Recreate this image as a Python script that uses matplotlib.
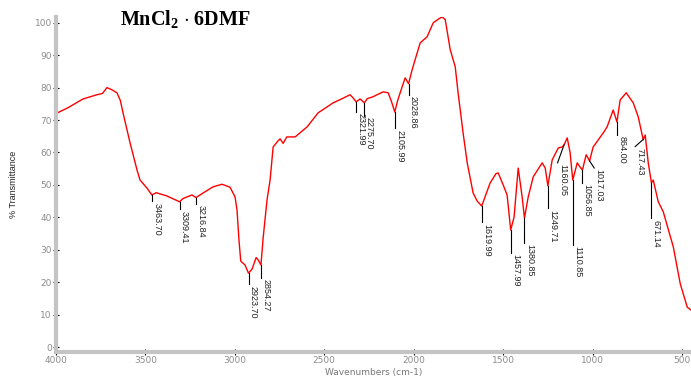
import numpy as np
import matplotlib
matplotlib.use('Agg')
import matplotlib.pyplot as plt
from matplotlib.ticker import MultipleLocator

# IR spectrum of MnCl2 . 6DMF
wavenumber = [4000, 3933, 3849, 3771, 3740, 3715, 3690, 3659, 3640, 3625, 3586, 3547, 3530, 3491,
              3464, 3440, 3380, 3309, 3290, 3240, 3217, 3178, 3122, 3072, 3027, 2999, 2988, 2977,
              2967, 2943, 2924, 2904, 2881, 2870, 2854, 2842, 2820, 2803, 2786, 2760, 2747, 2730,
              2710, 2663, 2596, 2535, 2451, 2400, 2356, 2340, 2322, 2300, 2276, 2260, 2227, 2171,
              2143, 2125, 2106, 2090, 2076, 2048, 2029, 2009, 1964, 1925, 1891, 1860, 1841, 1824,
              1796, 1768, 1752, 1724, 1701, 1668, 1645, 1620, 1573, 1540, 1528, 1500, 1478, 1458,
              1439, 1416, 1394, 1381, 1360, 1332, 1282, 1265, 1250, 1226, 1192, 1170, 1160, 1142,
              1126, 1111, 1086, 1070, 1057, 1036, 1017, 997, 941, 919, 885, 864, 846, 812, 773,
              745, 717, 706, 689, 671, 661, 633, 605, 549, 510, 471, 450]
transmittance = [72.0, 73.8, 76.5, 77.8, 78.2, 80.0, 79.4, 78.4, 76.0, 72.2, 63.0, 54.6, 51.5, 49.0,
                 46.9, 47.6, 46.6, 44.8, 45.8, 46.9, 46.1, 47.5, 49.4, 50.2, 49.3, 46.3, 42.3, 33.0,
                 26.5, 25.3, 22.8, 24.0, 27.6, 26.9, 25.3, 33.6, 45.4, 51.5, 61.7, 63.5, 64.2, 62.8,
                 64.8, 64.8, 67.9, 72.2, 75.3, 76.6, 77.8, 76.9, 75.6, 76.5, 75.3, 76.6, 77.2, 78.7,
                 78.4, 75.8, 72.5, 76.0, 78.4, 83.0, 81.2, 85.5, 93.8, 95.7, 100.0, 101.2, 101.8, 101.0,
                 91.7, 86.4, 78.4, 66.0, 56.8, 47.5, 45.0, 43.5, 50.6, 53.5, 53.7, 50.0, 46.9, 36.1,
                 40.1, 55.2, 46.3, 39.8, 46.3, 52.5, 56.8, 55.2, 49.7, 57.7, 61.4, 61.7, 62.3, 64.5,
                 60.0, 51.5, 56.8, 55.5, 54.6, 59.3, 57.4, 61.7, 66.0, 67.9, 73.1, 69.4, 76.2, 78.4, 75.3,
                 71.0, 63.9, 65.4, 56.8, 50.6, 51.5, 44.8, 41.7, 30.9, 19.5, 12.3, 11.4]

peak_pos = [3463.70, 3309.41, 3216.84, 2923.70, 2854.27, 2321.99, 2275.70, 2105.99, 2028.86,
            1619.99, 1457.99, 1380.85, 1249.71, 1160.05, 1110.85, 1056.85, 1017.03, 864.00,
            717.43, 671.14]

# leader line end for each label: (shift in cm-1, drop in %T)
leaders = [(0, 2), (0, 2.3), (0, 2), (0, 3.5), (0, 4), (0, 3), (0, 4), (0, 5), (0, 3.5),
           (0, 5), (0, 7), (0, 7.7), (0, 7), (36, 5.5), (0, 20), (0, 4), (-26, 2.2), (0, 4),
           (45, 2.2), (0, 11)]

plt.rcParams['mathtext.fontset'] = 'custom'
plt.rcParams['mathtext.rm'] = 'Liberation Serif:bold'
plt.rcParams['mathtext.bf'] = 'Liberation Serif:bold'

fig = plt.figure(figsize=(6.91, 3.76), dpi=100)
ax = fig.add_axes([0.081, 0.064, 0.919, 0.891])

wn = np.array(wavenumber, dtype=float)
tr = np.array(transmittance, dtype=float)
ax.plot(wn, tr, color='red', lw=1.0)

label_font = 'Liberation Sans'
for pos, (shift, drop) in zip(peak_pos, leaders):
    t_pk = np.interp(pos, wn[::-1], tr[::-1])
    x_end = pos + shift
    y_end = t_pk - drop
    ax.plot([pos, x_end], [t_pk, y_end], color='black', lw=0.8)
    ax.annotate('{:.2f}'.format(pos), xy=(x_end, y_end), xytext=(3.5, -1),
                textcoords='offset points', rotation=-90, ha='center', va='top',
                fontsize=6.5, family=label_font, color='#222222')

ax.set_xlim(4000, 450)
ax.set_ylim(-1.5, 101.8)
ax.xaxis.set_minor_locator(MultipleLocator(100))
ax.yaxis.set_minor_locator(MultipleLocator(2))
ax.set_xticks(np.arange(500, 4001, 500))
ax.set_yticks(np.arange(0, 101, 10))

for side in ['top', 'right']:
    ax.spines[side].set_visible(False)
for side in ['left', 'bottom']:
    ax.spines[side].set_color('#c4c4c4')
    ax.spines[side].set_linewidth(3)

ax.tick_params(which='major', direction='inout', length=4, width=0.8, color='black',
               labelsize=6.5, labelcolor='#8c8c8c', pad=1)
ax.tick_params(which='minor', direction='inout', length=2, width=0.7, color='#333333')

ax.set_xlabel('Wavenumbers (cm-1)', fontsize=6.5, color='#777777', labelpad=2)
ax.set_ylabel('% Transmittance', fontsize=6.5, color='#222222', family=label_font, labelpad=12)

fig.text(0.268, 0.948, r'MnCl$_\mathbf{2}$ $\cdot$ 6DMF', ha='center', va='center',
         fontsize=14.5, family='Liberation Serif', fontweight='bold')

fig.savefig('out.png', dpi=100)
